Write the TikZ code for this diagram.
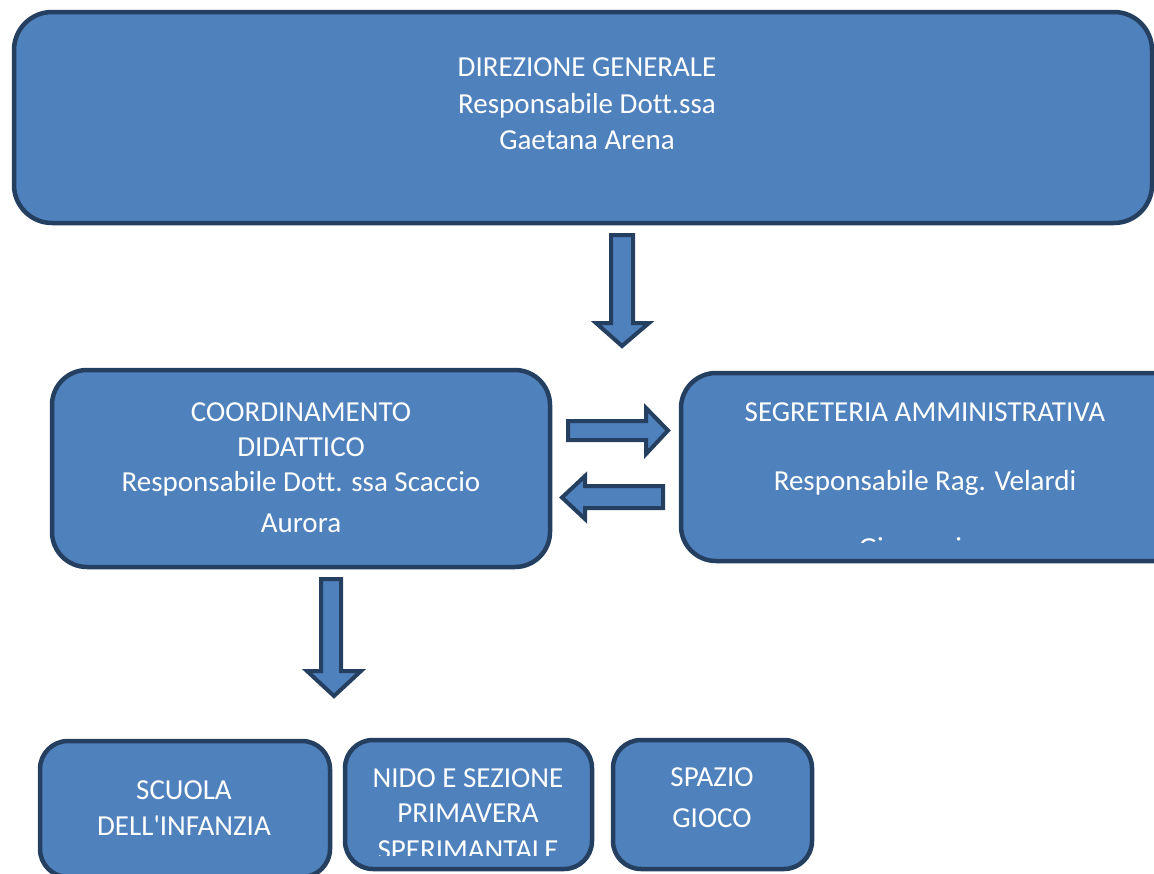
\documentclass[tikz,border=0pt]{standalone}
\usepackage{fontspec}
\setmainfont{Carlito}[Ligatures={TeXOff,NoCommon}]
\begin{document}
\begin{tikzpicture}[x=1pt,y=-1pt]
\definecolor{boxfill}{HTML}{4F81BD}
\definecolor{boxline}{HTML}{243F60}
\tikzset{
  box/.style={draw=boxline,fill=boxfill,line width=4.5pt,rectangle,inner sep=0pt},
  blockarrow/.style={draw=boxline,fill=boxfill,line width=4pt,line join=miter},
  txt/.style={text=white,anchor=base,inner sep=0pt,font=\fontsize{29}{36}\selectfont}
}
\useasboundingbox (0,0) rectangle (1154,873);
\clip (0,0) rectangle (1154,873);
% boxes
\node[box,rounded corners=38pt,minimum width=1138pt,minimum height=211pt] (dir) at (583,117.5) {};
\node[box,rounded corners=35pt,minimum width=498pt,minimum height=197pt] (coord) at (301,468.5) {};
\node[box,rounded corners=35pt,minimum width=520pt,minimum height=188pt] (seg) at (941,467) {};
\node[box,rounded corners=28pt,minimum width=290pt,minimum height=136pt] (scuola) at (185,809) {};
\node[box,rounded corners=28pt,minimum width=247pt,minimum height=129pt] (nido) at (468.5,804.5) {};
\node[box,rounded corners=28pt,minimum width=199pt,minimum height=129pt] (spazio) at (712.5,804.5) {};
% texts
\node[txt] (t1) at (587,76) {DIREZIONE GENERALE};
\node[txt] (t2) at (587,113) {Responsabile Dott.ssa};
\node[txt] (t3) at (587,149) {Gaetana Arena};
\node[txt] (c1) at (301,421) {COORDINAMENTO};
\node[txt] (c2) at (301,456) {DIDATTICO};
\node[txt] (c3) at (301,491) {Responsabile Dott. ssa Scaccio};
\node[txt] (c4) at (301,532) {Aurora};
\node[txt] (s1) at (925,421) {SEGRETERIA AMMINISTRATIVA};
\node[txt] (s2) at (925,490) {Responsabile Rag. Velardi};
\begin{scope}
\clip (681,500) rectangle (1154,542);
\node[txt] (s3) at (925,557) {Giuseppina};
\end{scope}
\node[txt] (b1) at (184,799) {SCUOLA};
\node[txt] (b2) at (184,835) {DELL'INFANZIA};
\node[txt] (n1) at (468,787) {NIDO E SEZIONE};
\node[txt] (n2) at (468,822) {PRIMAVERA};
\begin{scope}
\clip (345,830) rectangle (592,855);
\node[txt] (n3) at (468,859) {SPERIMANTALE};
\end{scope}
\node[txt] (p1) at (712,786) {SPAZIO};
\node[txt] (p2) at (712,827) {GIOCO};
% block arrows
\draw[blockarrow] (611,235) -- (633,235) -- (633,323) -- (649,323) -- (622,346) -- (596,323) -- (611,323) -- cycle;
\draw[blockarrow] (321,579) -- (341,579) -- (341,671) -- (361,671) -- (334,696) -- (307,671) -- (321,671) -- cycle;
\draw[blockarrow] (568,421) -- (646,421) -- (646,408) -- (668,430.5) -- (646,454) -- (646,440) -- (568,440) -- cycle;
\draw[blockarrow] (663,486) -- (585,486) -- (585,476) -- (562,497.5) -- (585,519) -- (585,508) -- (663,508) -- cycle;
\end{tikzpicture}
\end{document}
